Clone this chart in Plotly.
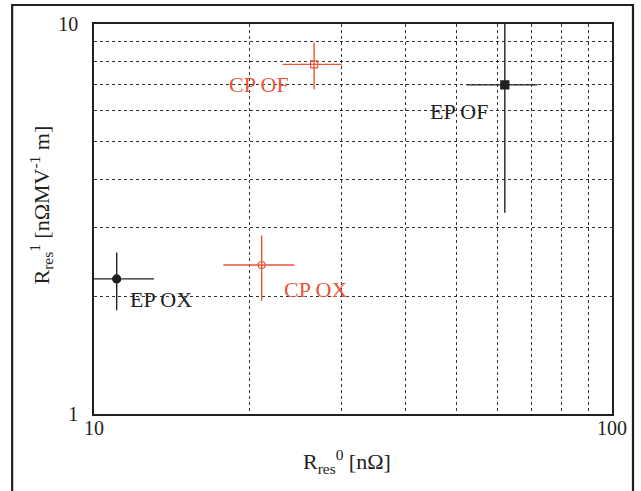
import plotly.graph_objects as go
import math

# ---- data ----
labels = ["EP OX", "CP OX", "CP OF", "EP OF"]
r0 = [11.06, 21.07, 26.6, 62.1]          # R_res^0 [nΩ]
r0_err = [2.0, 3.3, 3.5, 9.7]
r1 = [2.22, 2.41, 7.88, 6.98]            # R_res^1 [nΩ MV^-1 m]
r1_err = [0.375, 0.46, 1.08, 3.70]
x_ticks = [10, 100]
x_minor = [20, 30, 40, 50, 60, 70, 80, 90]
y_ticks = [1, 10]
y_minor = [2, 3, 4, 5, 6, 7, 8, 9]

BLACK = "#231F20"
RED = "#E8553A"
styles = {
    "EP OX": dict(symbol="circle", color=BLACK, size=8),
    "CP OX": dict(symbol="circle-open", color=RED, size=7),
    "CP OF": dict(symbol="square-open", color=RED, size=7),
    "EP OF": dict(symbol="square", color=BLACK, size=8),
}
label_offsets = {
    "EP OX": dict(xanchor="left", xshift=11, yshift=-21),
    "CP OX": dict(xanchor="left", xshift=20, yshift=-24),
    "CP OF": dict(xanchor="right", xshift=-23, yshift=-20),
    "EP OF": dict(xanchor="right", xshift=-15, yshift=-27),
}

SERIF = "Liberation Serif"
fig = go.Figure()
for i, name in enumerate(labels):
    s = styles[name]
    fig.add_trace(go.Scatter(
        x=[r0[i]], y=[r1[i]], mode="markers", name=name, showlegend=False,
        marker=dict(symbol=s["symbol"], color=s["color"], size=s["size"],
                    line=dict(color=s["color"], width=1.2)),
        error_x=dict(type="data", array=[r0_err[i]], color=s["color"], thickness=1.4, width=0),
        error_y=dict(type="data", array=[r1_err[i]], color=s["color"], thickness=1.4, width=0),
    ))
    o = label_offsets[name]
    fig.add_annotation(
        x=math.log10(r0[i]), y=math.log10(r1[i]), xref="x", yref="y",
        text=name, showarrow=False, xanchor=o["xanchor"], yanchor="middle",
        xshift=o["xshift"], yshift=o["yshift"],
        font=dict(family=SERIF, size=22, color=s["color"]),
    )

# axis titles as annotations
fig.add_annotation(
    x=0.488, y=-0.077, xref="paper", yref="paper", xanchor="center", yanchor="top",
    text="R<sub>res</sub><sup>0</sup> [nΩ]", showarrow=False,
    font=dict(family=SERIF, size=22, color=BLACK),
)
fig.add_annotation(
    x=-0.0675, y=0.536, xref="paper", yref="paper", xanchor="right", yanchor="middle",
    text="R<sub>res</sub><sup>1</sup> [nΩMV<sup>-1</sup> m]", showarrow=False, textangle=-90,
    font=dict(family=SERIF, size=22, color=BLACK),
)

# outer frame
fig.add_shape(type="rect", xref="paper", yref="paper",
              x0=-0.158, x1=1.0405, y0=-0.25, y1=1.0487,
              line=dict(color=BLACK, width=2.2), layer="above")

grid_style = dict(showgrid=True, gridcolor="#333333", griddash="dot", gridwidth=1)
axis_common = dict(
    type="log", showline=True, linecolor=BLACK, linewidth=1.6, mirror=True,
    ticks="", zeroline=False, automargin=False,
    tickfont=dict(family=SERIF, size=20, color=BLACK), **grid_style,
)
fig.update_xaxes(range=[1, 2], tickvals=x_ticks, ticktext=[str(v) for v in x_ticks],
                 minor=dict(tickvals=x_minor, ticks="", **grid_style),
                 ticklabelstandoff=-5, **axis_common)
fig.update_yaxes(range=[0, 1], tickvals=y_ticks, ticktext=[str(v) for v in y_ticks],
                 minor=dict(tickvals=y_minor, ticks="", **grid_style),
                 ticklabelstandoff=10, **axis_common)

fig.update_layout(
    width=641, height=491,
    margin=dict(l=94, r=641 - 612, t=24, b=491 - 414),
    paper_bgcolor="white", plot_bgcolor="white",
)
fig.write_html("out.html", config={"displayModeBar": False},
               post_script="document.body.style.margin='0';")
